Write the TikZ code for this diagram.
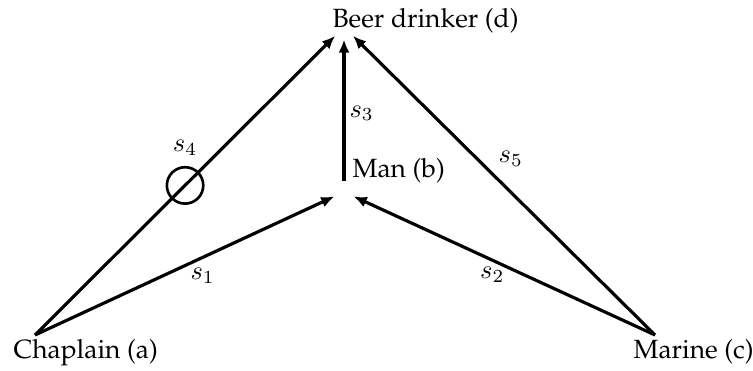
\documentclass[tikz,border=0pt]{standalone}
\usepackage[T1]{fontenc}
\renewcommand{\rmdefault}{ppl}
\usepackage{tikz}
\usetikzlibrary{positioning, arrows.meta}

\begin{document}
\begin{tikzpicture}[x=0.379pt, y=-0.379pt, >={Latex[length=5pt, width=4.2pt]}, line width=1.2pt,
    hub/.style={circle, inner sep=0pt},
    who/.style={anchor=base west, inner sep=0pt},
    ring/.style={circle, draw, line width=1pt, minimum size=13.8pt, inner sep=0pt},
    rel/.style={->}]
\useasboundingbox (0,0) rectangle (753,371);

% Points of the triangle
\coordinate (a) at (35,335);
\coordinate (c) at (655,335);
\node[hub, minimum size=6.8pt] (b) at (344,192) {};
\node[hub, minimum size=8.3pt] (d) at (344,27) {};

% Names
\node[who] (dname) at (331,28) {Beer drinker (d)};
\node[who] (bname) at (351,178) {Man (b)};
\node[who] (aname) at (12,359) {Chaplain (a)};
\node[who] (cname) at (632,359) {Marine (c)};

% Relations
\draw[rel] (a) -- node[below, pos=0.56] {$s_1$} (b);
\draw[rel] (c) -- node[below, inner sep=2pt, pos=0.54] {$s_2$} (b);
\draw[rel] (b) -- node[right, inner sep=1.5pt, pos=0.48] {$s_3$} (d);
\draw[rel] (a) -- node[ring, pos=0.5, label={above:$s_4$}] (mark) {} (d);
\draw[rel] (c) -- node[above right, inner sep=2pt, pos=0.54] {$s_5$} (d);
\end{tikzpicture}
\end{document}
